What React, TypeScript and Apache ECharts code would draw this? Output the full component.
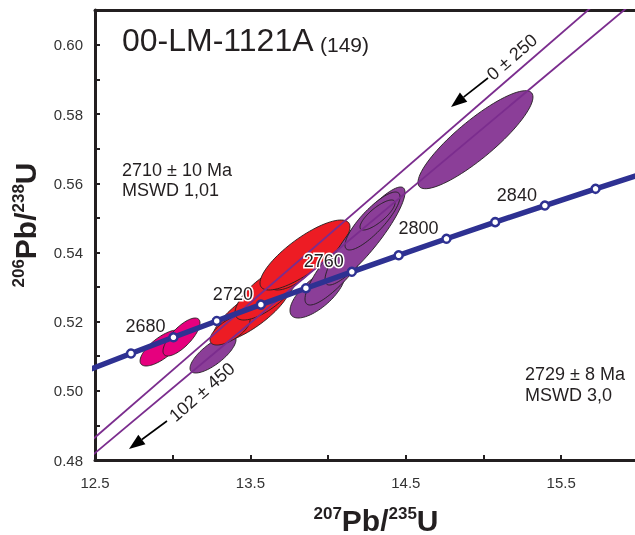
import React, { useEffect, useRef } from 'react';
import * as echarts from 'echarts';

// ---- Concordia (ages in Ma, ratios) ----
const concordiaAges = [2640, 2660, 2680, 2700, 2720, 2740, 2760, 2780, 2800, 2820, 2840, 2860, 2880];
const concordiaX = [12.4638, 12.7316, 13.0048, 13.2834, 13.5675, 13.8573, 14.1528, 14.4542, 14.7617, 15.0752, 15.395, 15.7211, 16.0538];
const concordiaY = [0.50611, 0.51079, 0.51548, 0.5202, 0.52492, 0.52966, 0.53441, 0.53918, 0.54396, 0.54876, 0.55357, 0.5584, 0.56324];
const labeledAges = [2680, 2720, 2760, 2800, 2840];

// ---- Discordia chords (upper / lower intercept points) ----
const upperInterceptX = [13.4247, 13.6972];
const upperInterceptY = [0.52255, 0.52705];
const lowerInterceptX = [0, 0.10567];
const lowerInterceptY = [0, 0.015949];

// ---- Error ellipses: centre, half-extent, correlation, group ----
const ellipseGroup = ['purple', 'purple', 'purple', 'pink', 'pink', 'red', 'red', 'red', 'red', 'red', 'purple', 'purple', 'purple', 'purple'];
const ellipseX = [13.2593, 13.9318, 14.0862, 12.928, 13.0566, 13.5071, 13.3687, 13.61, 13.787, 13.8514, 14.2375, 14.2857, 14.318, 14.9485];
const ellipseSX = [0.148, 0.177, 0.2349, 0.138, 0.119, 0.2477, 0.1287, 0.209, 0.161, 0.2896, 0.2574, 0.177, 0.1126, 0.37];
const ellipseY = [0.51064, 0.52828, 0.5371, 0.51238, 0.51556, 0.52279, 0.51758, 0.52842, 0.53493, 0.53927, 0.54476, 0.5491, 0.55083, 0.5726];
const ellipseSY = [0.00549, 0.00723, 0.01229, 0.0052, 0.00549, 0.00867, 0.00434, 0.00795, 0.00578, 0.01012, 0.01417, 0.00838, 0.00434, 0.01417];
const ellipseRho = [0.75, 0.7, 0.86, 0.72, 0.74, 0.8, 0.65, 0.73, 0.7, 0.8, 0.89, 0.835, 0.8, 0.87];

// ---- Axes ----
const xMin = 12.5;
const xMax = 15.975;
const yMin = 0.48;
const yMax = 0.6101;

const groupColor: Record<string, string> = { purple: '#8b3e98', pink: '#e6007e', red: '#ed1c24' };
const INK = '#231f20';
const FONT = '"Liberation Sans", Arial, Helvetica, sans-serif';

function arrow(tail: number[], tip: number[]) {
  const dx = tip[0] - tail[0];
  const dy = tip[1] - tail[1];
  const len = Math.sqrt(dx * dx + dy * dy);
  const ux = dx / len, uy = dy / len;
  const px = -uy, py = ux;
  const hl = 16, hw = 6;
  const bx = tip[0] - ux * hl, by = tip[1] - uy * hl;
  return {
    type: 'group',
    children: [
      { type: 'line', shape: { x1: tail[0], y1: tail[1], x2: bx, y2: by }, style: { stroke: '#000', lineWidth: 1.6 } },
      {
        type: 'polygon',
        shape: { points: [[tip[0], tip[1]], [bx + px * hw, by + py * hw], [bx - px * hw, by - py * hw]] },
        style: { fill: '#000' },
      },
    ],
  };
}

const richTitle = {
  b: { fontSize: 30, fontWeight: 'bold', fontFamily: FONT, fill: INK, lineHeight: 30, verticalAlign: 'bottom' },
  s: { fontSize: 17, fontWeight: 'bold', fontFamily: FONT, fill: INK, lineHeight: 17, verticalAlign: 'top' },
};

export default function App() {
  const ref = useRef<HTMLDivElement>(null);
  useEffect(() => {
    if (!ref.current) return;
    const chart = echarts.init(ref.current, null, { renderer: 'svg' });

    const ellipseData = ellipseX.map((x, i) => [x, ellipseSX[i], ellipseY[i], ellipseSY[i], ellipseRho[i]]);

    const discordiaSeries = upperInterceptX.map((ux, i) => {
      const slope = (upperInterceptY[i] - lowerInterceptY[i]) / (ux - lowerInterceptX[i]);
      const x1 = 12.3, x2 = 16.3;
      return {
        type: 'line',
        z: 3,
        silent: true,
        symbol: 'none',
        clip: true,
        lineStyle: { color: '#7b2d8e', width: 1.8 },
        data: [
          [x1, upperInterceptY[i] + (x1 - ux) * slope],
          [x2, upperInterceptY[i] + (x2 - ux) * slope],
        ],
      };
    });

    const concordiaData = concordiaAges.map((age, i) => {
      const inside = concordiaX[i] >= xMin && concordiaX[i] <= xMax;
      return {
        value: [concordiaX[i], concordiaY[i]],
        symbol: inside ? 'circle' : 'none',
        label: { show: labeledAges.includes(age), formatter: String(age) },
      };
    });

    chart.setOption({
      animation: false,
      grid: { left: 95, right: 0, top: 10, bottom: 75, containLabel: false },
      xAxis: [
        {
          type: 'value',
          min: xMin,
          max: xMax,
          interval: 0.5,
          splitLine: { show: false },
          axisLine: { show: true, onZero: false, lineStyle: { color: INK, width: 3 } },
          axisTick: { show: true, inside: true, length: 5, lineStyle: { color: INK, width: 2 } },
          axisLabel: {
            inside: false,
            showMaxLabel: false,
            margin: 15,
            color: '#333',
            fontSize: 15,
            fontFamily: FONT,
            formatter: (v: number) => (Math.round(v * 2) % 2 === 1 ? v.toFixed(1) : ''),
          },
        },
        {
          type: 'value',
          position: 'top',
          min: xMin,
          max: xMax,
          axisLine: { show: true, onZero: false, lineStyle: { color: INK, width: 3 } },
          axisTick: { show: false },
          axisLabel: { show: false },
          splitLine: { show: false },
        },
      ],
      yAxis: {
        type: 'value',
        min: yMin,
        max: yMax,
        interval: 0.01,
        splitLine: { show: false },
        axisLine: { show: true, onZero: false, lineStyle: { color: INK, width: 3 } },
        axisTick: { show: true, inside: true, length: 5, lineStyle: { color: INK, width: 2 } },
        axisLabel: {
          showMaxLabel: false,
          margin: 12,
          color: '#333',
          fontSize: 15,
          fontFamily: FONT,
          formatter: (v: number) => (Math.round(v * 100) % 2 === 0 ? v.toFixed(2) : ''),
        },
      },
      series: [
        {
          type: 'custom',
          z: 2,
          silent: true,
          clip: true,
          encode: { x: 0, y: 2 },
          data: ellipseData,
          renderItem: (params: any, api: any) => {
            const cx = api.value(0), sx = api.value(1), cy = api.value(2), sy = api.value(3), r = api.value(4);
            const k = Math.sqrt(1 - r * r);
            const pts: number[][] = [];
            const n = 90;
            for (let j = 0; j < n; j++) {
              const t = (j / n) * Math.PI * 2;
              pts.push(api.coord([cx + sx * Math.cos(t), cy + sy * (r * Math.cos(t) + k * Math.sin(t))]));
            }
            return {
              type: 'polygon',
              shape: { points: pts },
              style: { fill: groupColor[ellipseGroup[params.dataIndex]], stroke: INK, lineWidth: 0.9 },
            };
          },
        },
        ...discordiaSeries,
        {
          type: 'line',
          z: 4,
          silent: true,
          clip: true,
          symbolSize: 8,
          lineStyle: { color: '#2e3192', width: 5.5 },
          itemStyle: { color: '#ffffff', borderColor: '#2e3192', borderWidth: 2.5 },
          label: {
            position: 'inside',
            offset: [-28, -11],
            color: INK,
            fontSize: 18,
            fontFamily: FONT,
            textBorderColor: '#ffffff',
            textBorderWidth: 3,
          },
          data: concordiaData,
        },
      ],
      graphic: [
        { type: 'text', x: 122, y: 40, style: { text: '00-LM-1121A', font: `32px ${FONT}`, fill: INK, verticalAlign: 'middle' } },
        { type: 'text', x: 320, y: 44, style: { text: '(149)', font: `21px ${FONT}`, fill: INK, verticalAlign: 'middle' } },
        { type: 'text', x: 122, y: 160, style: { text: '2710 ± 10 Ma\nMSWD 1,01', font: `18px ${FONT}`, lineHeight: 20, fill: INK, verticalAlign: 'top' } },
        { type: 'text', x: 525, y: 363, style: { text: '2729 ± 8 Ma\nMSWD 3,0', font: `18px ${FONT}`, lineHeight: 21, fill: INK, verticalAlign: 'top' } },
        { type: 'text', x: 512, y: 57, rotation: 0.714, style: { text: '0 ± 250', font: `18px ${FONT}`, fill: INK, align: 'center', verticalAlign: 'middle' } },
        { type: 'text', x: 202, y: 392, rotation: 0.714, style: { text: '102 ± 450', font: `18px ${FONT}`, fill: INK, align: 'center', verticalAlign: 'middle' } },
        arrow([488, 78], [451, 107]),
        arrow([167, 421], [129, 449]),
        {
          type: 'text',
          x: 376,
          y: 520,
          style: { text: '{s|207}{b|Pb/}{s|235}{b|U}', rich: richTitle, align: 'center', verticalAlign: 'middle' },
        },
        {
          type: 'text',
          x: 25,
          y: 225,
          rotation: Math.PI / 2,
          style: { text: '{s|206}{b|Pb/}{s|238}{b|U}', rich: richTitle, align: 'center', verticalAlign: 'middle' },
        },
      ],
    });
    return () => chart.dispose();
  }, []);
  return <div ref={ref} style={{ position: 'fixed', left: 0, top: 0, width: 635, height: 535 }} />;
}
